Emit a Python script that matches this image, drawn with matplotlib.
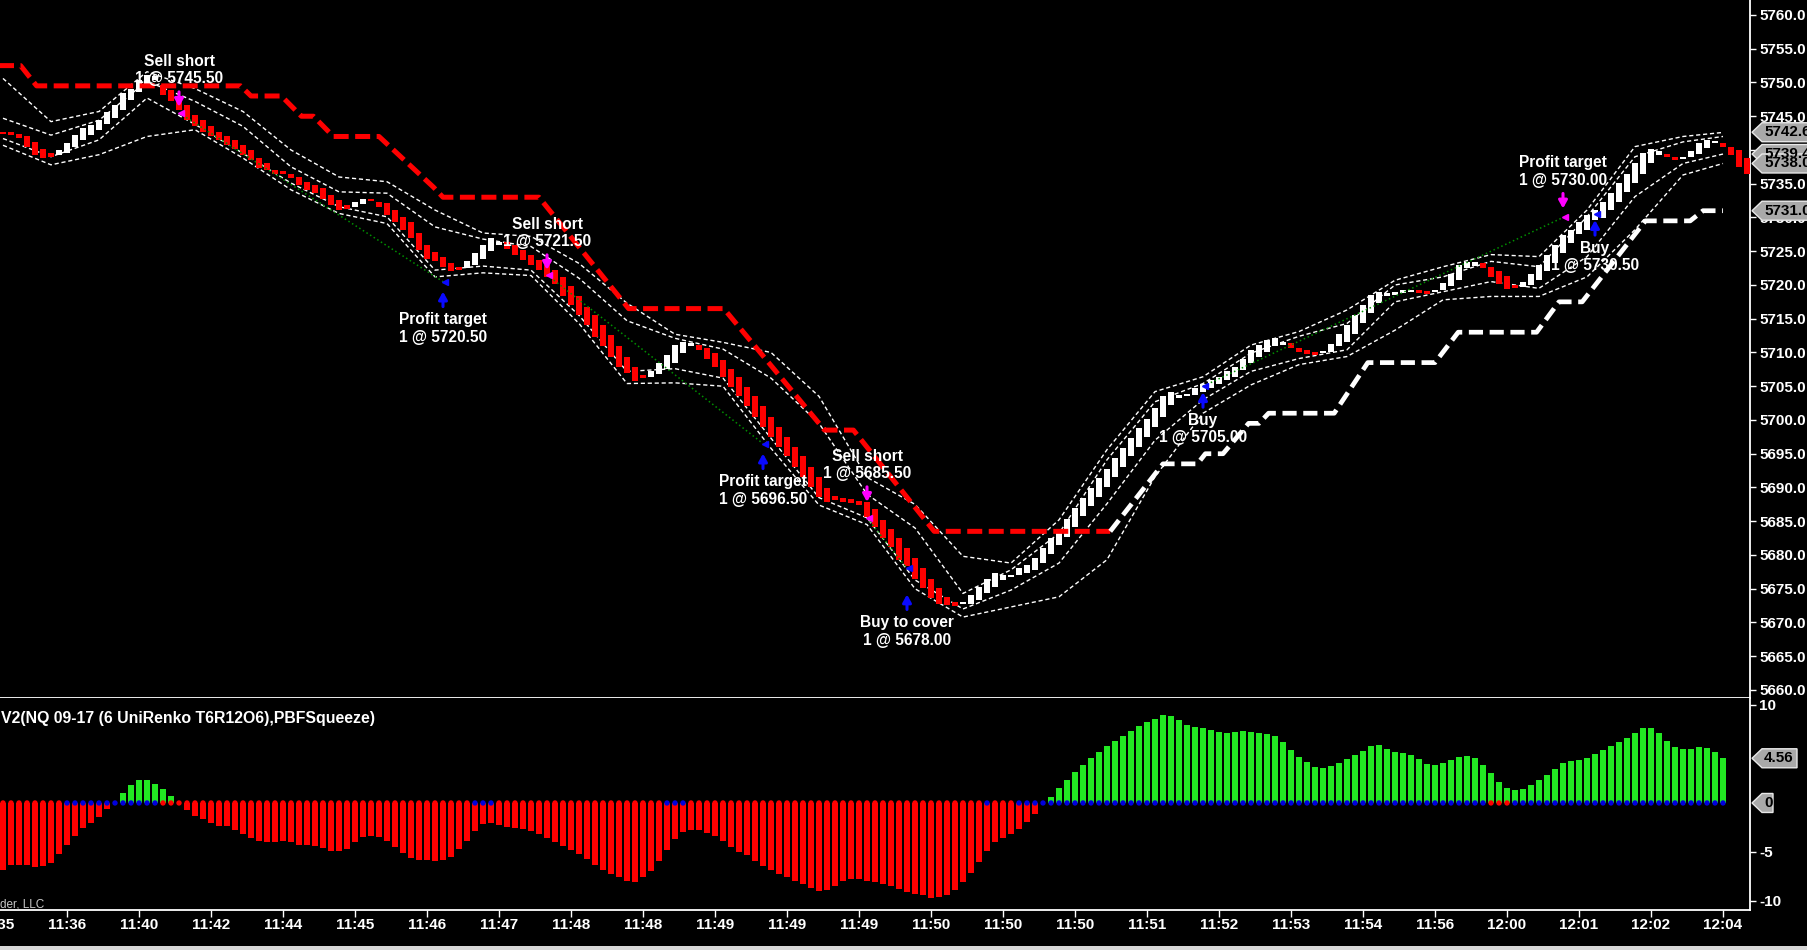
import numpy as np
import matplotlib
matplotlib.use('Agg')
import matplotlib.pyplot as plt
from matplotlib import transforms
from matplotlib.patches import Polygon, Rectangle

plt.rcParams['font.family'] = ['Liberation Sans', 'DejaVu Sans']

# ---------------- data ----------------
opens = [
    5742.7, 5742.6, 5742.4, 5742.0, 5741.2, 5740.2, 5739.5, 5739.3, 5739.5, 5740.5,
    5741.5, 5742.2, 5742.9, 5743.9, 5744.7, 5745.9, 5747.4, 5748.6, 5749.6, 5750.4,
    5749.6, 5748.9, 5747.6, 5746.7, 5745.2, 5744.4, 5743.5, 5742.7, 5742.0, 5741.5,
    5740.7, 5740.0, 5738.8, 5738.0, 5737.0, 5736.9, 5736.5, 5736.0, 5735.3, 5734.8,
    5734.3, 5733.3, 5732.6, 5731.8, 5731.6, 5732.0, 5732.8, 5732.3, 5732.1, 5731.1,
    5730.1, 5729.4, 5727.7, 5725.9, 5724.9, 5724.2, 5723.2, 5722.6, 5722.5, 5723.0,
    5723.9, 5725.1, 5725.9, 5726.4, 5725.9, 5725.2, 5724.4, 5723.7, 5723.0, 5722.2,
    5721.2, 5719.8, 5718.3, 5716.8, 5715.6, 5714.1, 5712.6, 5710.9, 5709.4, 5707.9,
    5706.7, 5706.4, 5706.8, 5707.6, 5708.5, 5709.9, 5710.9, 5711.1, 5710.6, 5709.9,
    5708.9, 5707.6, 5706.4, 5704.9, 5703.5, 5702.0, 5700.5, 5699.0, 5697.5, 5696.0,
    5694.6, 5693.1, 5691.6, 5689.9, 5688.7, 5688.5, 5688.3, 5688.0, 5687.8, 5686.8,
    5685.2, 5683.8, 5682.5, 5681.0, 5679.5, 5678.0, 5676.5, 5675.1, 5673.8, 5673.1,
    5672.7, 5672.7, 5673.3, 5674.3, 5675.3, 5676.3, 5676.7, 5677.0, 5677.3, 5677.8,
    5678.8, 5680.2, 5681.5, 5682.7, 5684.2, 5685.7, 5687.2, 5688.6, 5690.1, 5691.6,
    5693.1, 5694.6, 5696.0, 5697.5, 5699.0, 5700.5, 5702.2, 5703.2, 5703.5, 5703.7,
    5704.2, 5704.7, 5705.4, 5705.9, 5706.4, 5707.4, 5708.4, 5709.4, 5710.1, 5710.9,
    5711.1, 5711.4, 5710.6, 5710.3, 5710.0, 5709.9, 5710.0, 5710.9, 5711.6, 5712.8,
    5714.3, 5715.8, 5717.3, 5718.3, 5718.5, 5718.8, 5718.9, 5719.2, 5719.1, 5718.9,
    5719.3, 5719.8, 5720.8, 5722.5, 5722.8, 5723.2, 5722.7, 5722.0, 5721.3, 5720.0,
    5719.7, 5720.0, 5720.7, 5722.0, 5723.2, 5724.7, 5726.2, 5727.6, 5728.1, 5729.6,
    5729.9, 5731.1, 5732.3, 5733.8, 5735.1, 5736.5, 5738.0, 5739.3, 5739.4, 5738.9,
    5738.7, 5738.9, 5739.4, 5740.3, 5741.0, 5741.1, 5740.5, 5740.0, 5738.8,
]
closes = [
    5742.3, 5742.2, 5741.8, 5740.5, 5739.3, 5738.8, 5739.0, 5740.0, 5741.0, 5742.2,
    5743.2, 5743.7, 5744.4, 5745.7, 5746.7, 5748.4, 5749.1, 5750.4, 5751.1, 5750.9,
    5748.1, 5747.2, 5745.9, 5744.4, 5743.5, 5742.7, 5742.0, 5741.5, 5740.7, 5740.2,
    5739.3, 5738.5, 5737.3, 5737.0, 5736.5, 5736.5, 5735.8, 5734.8, 5734.1, 5733.6,
    5732.8, 5731.8, 5731.1, 5731.3, 5732.3, 5732.8, 5732.4, 5731.6, 5730.4, 5729.4,
    5728.1, 5726.9, 5725.2, 5723.9, 5723.5, 5722.7, 5722.0, 5722.2, 5723.5, 5724.7,
    5725.9, 5726.9, 5726.4, 5725.4, 5724.5, 5723.7, 5723.0, 5722.2, 5721.2, 5720.2,
    5718.3, 5717.0, 5715.6, 5714.1, 5712.3, 5710.9, 5709.4, 5707.9, 5706.9, 5705.8,
    5706.2, 5707.2, 5708.4, 5709.6, 5711.1, 5711.6, 5711.4, 5710.4, 5709.1, 5707.9,
    5706.4, 5704.9, 5703.5, 5702.0, 5700.5, 5699.0, 5697.5, 5696.0, 5694.6, 5693.1,
    5691.6, 5690.1, 5688.6, 5687.9, 5688.1, 5687.9, 5687.7, 5687.4, 5685.6, 5684.2,
    5682.5, 5681.2, 5679.3, 5678.3, 5676.5, 5675.1, 5673.6, 5672.8, 5672.6, 5672.4,
    5673.1, 5674.1, 5675.3, 5676.5, 5677.3, 5677.0, 5677.0, 5678.0, 5678.5, 5679.5,
    5681.0, 5682.5, 5683.9, 5685.4, 5686.9, 5688.4, 5689.9, 5691.4, 5692.8, 5694.3,
    5695.8, 5697.3, 5698.8, 5700.2, 5701.7, 5703.5, 5704.2, 5703.7, 5703.9, 5704.7,
    5705.4, 5705.9, 5706.4, 5707.2, 5707.9, 5709.1, 5710.4, 5711.1, 5711.8, 5712.1,
    5711.5, 5710.6, 5710.1, 5709.8, 5709.6, 5710.2, 5711.3, 5712.7, 5714.0, 5715.5,
    5717.0, 5718.5, 5719.0, 5718.8, 5719.0, 5719.3, 5719.2, 5718.8, 5718.7, 5719.3,
    5720.3, 5721.6, 5722.9, 5723.4, 5723.4, 5722.5, 5721.2, 5720.2, 5719.4, 5719.5,
    5720.4, 5721.7, 5723.0, 5724.4, 5725.9, 5727.4, 5728.1, 5729.4, 5730.4, 5731.1,
    5732.3, 5733.6, 5735.1, 5736.5, 5738.0, 5739.5, 5740.2, 5739.8, 5739.0, 5738.5,
    5739.0, 5739.8, 5741.0, 5741.5, 5741.3, 5740.5, 5739.3, 5737.5, 5736.5,
]

momentum = [
    -6.8, -6.3, -6.3, -6.3, -6.5, -6.4, -6.1, -5.2, -4.3, -3.4,
    -2.6, -2.0, -1.4, -0.6, 0.0, 1.0, 1.8, 2.3, 2.3, 1.9,
    1.4, 0.7, 0.0, -0.7, -1.3, -1.6, -2.0, -2.3, -2.4, -2.8,
    -3.2, -3.6, -3.9, -4.0, -4.0, -3.9, -4.0, -4.3, -4.3, -4.4,
    -4.6, -4.9, -4.9, -4.7, -4.0, -3.5, -3.4, -3.5, -3.9, -4.5,
    -5.1, -5.6, -5.8, -5.8, -5.9, -5.8, -5.5, -4.7, -3.9, -2.9,
    -2.1, -2.0, -2.2, -2.5, -2.6, -2.7, -2.9, -3.2, -3.6, -4.0,
    -4.4, -4.8, -5.2, -5.7, -6.3, -6.8, -7.2, -7.6, -8.0, -8.1,
    -7.6, -6.9, -5.9, -4.8, -3.7, -3.0, -2.8, -2.8, -3.1, -3.4,
    -3.9, -4.5, -5.0, -5.3, -5.9, -6.4, -6.8, -7.2, -7.6, -8.0,
    -8.3, -8.7, -9.0, -8.9, -8.5, -8.0, -7.8, -7.8, -8.0, -8.1,
    -8.3, -8.5, -8.8, -9.1, -9.3, -9.4, -9.7, -9.6, -9.4, -8.9,
    -8.1, -7.1, -6.0, -4.9, -4.0, -3.6, -3.2, -2.7, -1.9, -1.1,
    0.0, 0.6, 1.5, 2.3, 3.2, 3.9, 4.6, 5.2, 5.8, 6.3,
    6.8, 7.3, 7.9, 8.3, 8.6, 9.0, 8.9, 8.5, 8.0, 7.8,
    7.7, 7.4, 7.2, 7.1, 7.2, 7.3, 7.2, 7.1, 7.0, 6.8,
    6.2, 5.4, 4.7, 4.2, 3.7, 3.6, 3.8, 4.1, 4.5, 4.9,
    5.3, 5.8, 5.9, 5.5, 5.2, 5.1, 4.9, 4.5, 4.0, 3.9,
    4.1, 4.4, 4.7, 4.8, 4.6, 3.9, 3.1, 2.1, 1.5, 1.3,
    1.4, 1.8, 2.3, 2.9, 3.5, 4.1, 4.3, 4.4, 4.6, 5.0,
    5.4, 5.8, 6.2, 6.6, 7.1, 7.6, 7.6, 7.1, 6.3, 5.7,
    5.5, 5.5, 5.7, 5.6, 5.2, 4.56,
]

# squeeze state per histogram bar as runs: R = squeeze on (red dot), B = off (blue dot)
squeeze_runs = [('R', 8), ('B', 12), ('R', 39), ('B', 3), ('R', 21), ('B', 3),
                ('R', 37), ('B', 1), ('R', 3), ('B', 59), ('R', 3), ('B', 27)]

band_x = [0, 6, 12, 18, 24, 30, 36, 42, 48, 54, 60, 66, 72, 78, 84, 90, 96, 102, 108,
          114, 120, 126, 132, 138, 144, 150, 156, 162, 168, 174, 180, 186, 192, 198,
          204, 210, 215]
bb_upper = [5750.6, 5744.2, 5745.7, 5751.6, 5749.1, 5745.7, 5740.0, 5736.0, 5735.3, 5731.1,
            5727.7, 5727.2, 5723.2, 5717.3, 5712.7, 5711.5, 5710.0, 5703.5, 5691.5, 5687.5,
            5679.8, 5678.8, 5685.2, 5695.6, 5704.2, 5706.4, 5711.1, 5713.1, 5716.3, 5720.7,
            5722.7, 5724.5, 5724.2, 5731.1, 5740.5, 5742.0, 5742.6]
kc_upper = [5744.7, 5742.2, 5744.4, 5750.2, 5747.2, 5743.5, 5737.5, 5733.8, 5733.6, 5728.6,
            5726.8, 5725.7, 5721.0, 5714.7, 5712.1, 5710.5, 5706.2, 5699.5, 5689.0, 5684.0,
            5674.3, 5677.8, 5683.2, 5694.1, 5702.7, 5705.4, 5709.9, 5712.4, 5714.3, 5720.0,
            5721.2, 5723.5, 5722.7, 5730.1, 5739.0, 5741.2, 5742.0]
kc_lower = [5741.7, 5739.0, 5741.5, 5747.7, 5743.8, 5739.5, 5735.1, 5731.6, 5730.1, 5722.2,
            5722.8, 5722.2, 5715.5, 5707.2, 5707.6, 5706.2, 5697.3, 5688.5, 5685.5, 5676.3,
            5672.0, 5674.8, 5678.8, 5687.6, 5697.0, 5703.0, 5707.2, 5709.1, 5710.4, 5717.5,
            5719.0, 5720.5, 5719.5, 5724.2, 5733.1, 5738.0, 5739.4]
bb_lower = [5740.7, 5737.8, 5739.3, 5742.0, 5743.0, 5738.8, 5734.1, 5730.6, 5729.1, 5721.2,
            5721.8, 5721.4, 5714.3, 5705.4, 5705.5, 5705.0, 5695.8, 5687.4, 5684.5, 5675.0,
            5670.8, 5672.3, 5673.8, 5679.3, 5691.6, 5701.0, 5705.2, 5708.2, 5709.4, 5713.3,
            5717.8, 5718.3, 5718.3, 5721.2, 5728.2, 5736.3, 5738.0]

short_stop_x = [-1, 2.2, 4.2, 29.7, 31.0, 34.8, 37.3, 38.8, 41.3, 47.0, 53.8, 55.0, 67.0,
                78.2, 90.1, 102.7, 106.3, 116.4, 138.4]
short_stop_y = [5752.5, 5752.5, 5749.5, 5749.5, 5748.0, 5748.0, 5745.0, 5745.0, 5742.0,
                5742.0, 5734.5, 5733.0, 5733.0, 5716.5, 5716.5, 5698.5, 5698.5, 5683.5, 5683.5]
long_stop_x = [138.4, 145.0, 149.3, 150.3, 152.5, 155.7, 157.0, 158.2, 166.4, 170.6, 179.0,
               181.9, 191.7, 194.5, 197.4, 205.3, 210.9, 212.5, 215.0]
long_stop_y = [5683.5, 5693.5, 5693.5, 5695.0, 5695.0, 5699.5, 5699.5, 5701.0, 5701.0,
               5708.5, 5708.5, 5713.0, 5713.0, 5717.5, 5717.5, 5729.5, 5729.5, 5731.0, 5731.0]

trade_bars = [22, 55, 68, 95, 108, 113, 150, 195, 199]
trade_prices = [5745.50, 5720.50, 5721.50, 5696.50, 5685.50, 5678.00, 5705.00, 5730.00, 5730.50]
trade_sides = ['sell', 'buy', 'sell', 'buy', 'sell', 'buy', 'buy', 'sell', 'buy']
trade_names = ['Sell short', 'Profit target', 'Sell short', 'Profit target', 'Sell short',
               'Buy to cover', 'Buy', 'Profit target', 'Buy']
trade_links = [(0, 1), (2, 3), (4, 5), (6, 7)]
arrow_gap_px = [6, 10, 5, 10, 16, 26, 6, 9, 6]

time_labels = ['11:35', '11:36', '11:40', '11:42', '11:44', '11:45', '11:46', '11:47', '11:48',
               '11:48', '11:49', '11:49', '11:49', '11:50', '11:50', '11:50', '11:51', '11:52',
               '11:53', '11:54', '11:56', '12:00', '12:01', '12:02', '12:04']

price_tags = [(5742.63, '5742.63'), (5739.40, '5739.40'), (5738.00, '5738.00'), (5731.00, '5731.00')]
hist_tags = [(4.56, '4.56'), (0.0, '0')]

# ---------------- layout ----------------
W, H = 1808, 950
X_RIGHT = 1750
Y_SEP = 698
Y_BOT = 910
XLIM = (-0.375, 218.375)
PRICE_LIM = (5658.81, 5762.22)
HIST_LIM = (-10.92, 10.71)

fig = plt.figure(figsize=(W / 100, H / 100), dpi=100, facecolor='black')
ax = fig.add_axes([0, (H - Y_SEP) / H, X_RIGHT / W, Y_SEP / H])
axh = fig.add_axes([0, (H - Y_BOT) / H, X_RIGHT / W, (Y_BOT - Y_SEP) / H])

for a in (ax, axh):
    a.set_facecolor('black')
    a.set_xlim(*XLIM)
    for s in ('left', 'top'):
        a.spines[s].set_visible(False)
    for s in ('right', 'bottom'):
        a.spines[s].set_color('white')
        a.spines[s].set_linewidth(1.3)

ax.set_ylim(*PRICE_LIM)
axh.set_ylim(*HIST_LIM)

lab_font = dict(fontweight='bold', fontsize=11, color='white')

# price axis
ax.yaxis.tick_right()
pt = np.arange(5660, 5761, 5)
ax.set_yticks(pt)
ax.set_yticklabels([f'{v:.1f}' for v in pt], **lab_font)
ax.tick_params(axis='y', colors='white', direction='out', length=4.3, width=1, pad=2.2)
ax.tick_params(axis='x', bottom=False, top=False, labelbottom=False)

# histogram axis
axh.yaxis.tick_right()
axh.set_yticks([10, -5, -10])
axh.set_yticklabels(['10', '-5', '-10'], **lab_font)
axh.tick_params(axis='y', colors='white', direction='out', length=4.3, width=1, pad=2.2)
tick_bars = [-1 + 9 * k for k in range(len(time_labels))]
axh.set_xticks([b for b in tick_bars if b >= 0])
axh.tick_params(axis='x', colors='white', direction='out', length=5, width=1, labelbottom=False)
tb = transforms.blended_transform_factory(axh.transData, axh.transAxes)
for b, lab in zip(tick_bars, time_labels):
    axh.text(b, -0.0708, lab, transform=tb, ha='center', va='center', clip_on=False, **lab_font)

# ---------------- price panel ----------------
o = np.array(opens)
c = np.array(closes)
xb = np.arange(len(c))
lo = np.minimum(o, c)
hi = np.maximum(o, c)
cols = np.where(c >= o, '#ffffff', '#ff0000')
ax.bar(xb, hi - lo, bottom=lo, width=0.7, color=cols, linewidth=0, zorder=3)

for band in (bb_upper, kc_upper, kc_lower, bb_lower):
    ax.plot(band_x, band, color='white', lw=1.0, dashes=(3, 2), zorder=2)

ax.plot(short_stop_x, short_stop_y, color='#ff0000', lw=3.6, dashes=(3, 1.3),
        dash_capstyle='butt', zorder=5)
ax.plot(long_stop_x, long_stop_y, color='#ffffff', lw=3.4, dashes=(3, 1.4),
        dash_capstyle='butt', zorder=5)

for a_i, b_i in trade_links:
    ax.plot([trade_bars[a_i], trade_bars[b_i]], [trade_prices[a_i], trade_prices[b_i]],
            color='#009000', lw=1.1, linestyle=(0, (1, 1.8)), zorder=4)

for b, p, side, name, gap in zip(trade_bars, trade_prices, trade_sides, trade_names, arrow_gap_px):
    col = '#ff00ff' if side == 'sell' else '#0a0aff'
    sgn = 1 if side == 'sell' else -1
    tip_tr = transforms.offset_copy(ax.transData, fig=fig, x=0, y=sgn * gap, units='dots')
    tail_tr = transforms.offset_copy(ax.transData, fig=fig, x=0, y=sgn * (gap + 15), units='dots')
    ax.annotate('', xy=(b, p), xycoords=tip_tr, xytext=(b, p), textcoords=tail_tr,
                arrowprops=dict(arrowstyle='-|>,head_width=0.25,head_length=0.45', color=col,
                                lw=2.2, shrinkA=0, shrinkB=0, mutation_scale=10), zorder=6)
    ax.plot([b + 0.3], [p], marker='<', ms=4.5, color=col, mec=col, linestyle='none', zorder=6)
    txt_tr = transforms.offset_copy(ax.transData, fig=fig, x=0, y=sgn * (gap + 37), units='dots')
    ax.text(b, p, f'{name}\n1 @ {p:.2f}', transform=txt_tr, ha='center', va='center',
            multialignment='center', color='white', fontweight='bold', fontsize=11.2, zorder=7)

# ---------------- histogram panel ----------------
mv = np.array(momentum)
xm = np.arange(len(mv))
axh.bar(xm, mv, width=0.64, color=np.where(mv >= 0, '#22e822', '#ff0000'), linewidth=0, zorder=2)
squeeze = []
for s, n in squeeze_runs:
    squeeze.extend([s] * n)
squeeze = squeeze[:len(mv)]
dot_cols = ['#0000dd' if s == 'B' else '#ff0000' for s in squeeze]
axh.scatter(xm[:len(squeeze)], np.zeros(len(squeeze)), s=15, c=dot_cols, linewidths=0, zorder=3)

axh.text(0.0003, 0.901, 'V2(NQ 09-17 (6 UniRenko T6R12O6),PBFSqueeze)', transform=axh.transAxes,
         ha='left', va='center', color='white', fontweight='bold', fontsize=11.4)
axh.text(0.0, 0.028, 'der, LLC', transform=axh.transAxes, ha='left', va='center',
         color='#c8c8c8', fontsize=8.5)

# ---------------- value tags on the right ----------------
def add_tag(axis, yval, text, px_per_unit, right_px):
    tr = transforms.blended_transform_factory(fig.transFigure, axis.transData)
    h = 9.5 / px_per_unit
    xs = [1752 / W, 1762 / W, right_px / W, right_px / W, 1762 / W]
    ys = [yval, yval + h, yval + h, yval - h, yval - h]
    poly = Polygon(list(zip(xs, ys)), closed=True, transform=tr, facecolor='#a9a9a9',
                   edgecolor='#e8e8e8', lw=1.0, zorder=2)
    fig.add_artist(poly)
    fig.text(1764 / W, yval, text, transform=tr, ha='left', va='center', color='black',
             fontweight='bold', fontsize=11, zorder=3)

ppu_price = Y_SEP / (PRICE_LIM[1] - PRICE_LIM[0])
ppu_hist = (Y_BOT - Y_SEP) / (HIST_LIM[1] - HIST_LIM[0])
for yv, t in price_tags:
    add_tag(ax, yv, t, ppu_price, 1830)
add_tag(axh, hist_tags[0][0], hist_tags[0][1], ppu_hist, 1797)
add_tag(axh, hist_tags[1][0], hist_tags[1][1], ppu_hist, 1773)

fig.add_artist(Rectangle((0, 0), 1, 4 / H, transform=fig.transFigure, facecolor='#d8d8d8',
                         edgecolor='none', zorder=5))

fig.savefig('out.png', dpi=100, facecolor='black')
